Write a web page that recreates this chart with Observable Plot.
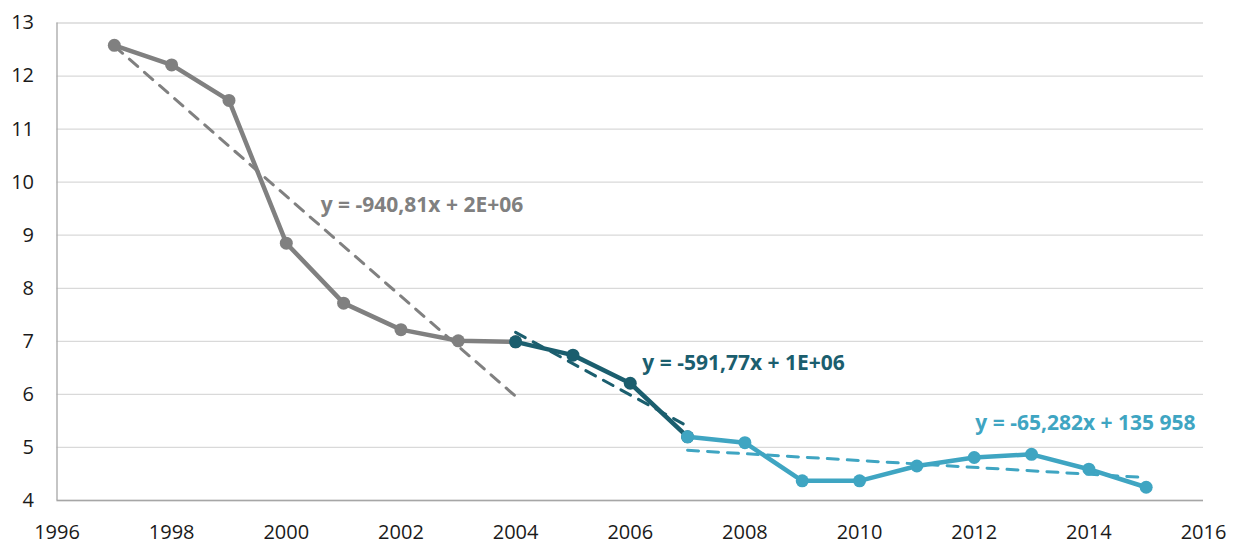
<!DOCTYPE html>
<html><head><meta charset="utf-8">
<script src="https://cdn.jsdelivr.net/npm/d3@7"></script>
<script src="https://cdn.jsdelivr.net/npm/@observablehq/plot@0.6"></script>
<style>html,body{margin:0;padding:0;background:#fff}</style>
</head><body><div id="chart"></div>
<script>
// ---- data ----
const years  = [1997,1998,1999,2000,2001,2002,2003,2004,2005,2006,2007,2008,2009,2010,2011,2012,2013,2014,2015];
const values = [12.58,12.21,11.54,8.85,7.72,7.22,7.01,6.99,6.74,6.21,5.20,5.09,4.37,4.37,4.65,4.81,4.87,4.59,4.25];
const periodNames = ["1997-2004","2004-2007","2007-2015"];
const periodStart = [1997,2004,2007];
const periodEnd   = [2004,2007,2015];
const equations   = ["y = -940,81x + 2E+06","y = -591,77x + 1E+06","y = -65,282x + 135 958"];
const xTicks = [1996,1998,2000,2002,2004,2006,2008,2010,2012,2014,2016];
const yTicks = [4,5,6,7,8,9,10,11,12,13];

// ---- styling ----
const colors = ["#808080","#1b5e6e","#3fa5c2"];
const labelAt = [[2000.6, 9.56],[2006.21, 6.59],[2012.02, 5.46]];

const rows = years.map((year, i) => ({year, value: values[i]}));
const periodRows = periodNames.map((p, k) => rows.filter(d => d.year >= periodStart[k] && d.year <= periodEnd[k]));

const marks = [
  Plot.gridY(yTicks, {stroke: "#d9d9d9", strokeOpacity: 1, strokeWidth: 1.3}),
  Plot.ruleX([1996], {stroke: "#a6a6a6", strokeWidth: 1.3}),
  Plot.ruleY([4], {stroke: "#a6a6a6", strokeWidth: 1.3}),
  Plot.axisX(xTicks, {tickSize: 0, tickPadding: 24, fontSize: 20, tickFormat: d => String(d), fill: "#1a1a1a", label: null}),
  Plot.axisY(yTicks, {tickSize: 0, tickPadding: 23, fontSize: 20, tickFormat: d => String(d), fill: "#1a1a1a", label: null})
];
periodRows.forEach((data, k) => {
  marks.push(Plot.line(data, {x: "year", y: "value", stroke: colors[k], strokeWidth: 4.5}));
  marks.push(Plot.dot(data, {x: "year", y: "value", fill: colors[k], r: 6.5}));
});
periodRows.forEach((data, k) => {
  marks.push(Plot.linearRegressionY(data, {x: "year", y: "value", stroke: colors[k], strokeWidth: 3, strokeDasharray: "11,9", ci: 0}));
  marks.push(Plot.text([equations[k]], {x: () => labelAt[k][0], y: () => labelAt[k][1], text: d => d, textAnchor: "start", fill: colors[k], fontSize: 21, fontWeight: "bold"}));
});

const chart = Plot.plot({
  width: 1239,
  height: 543,
  marginLeft: 56.5,
  marginRight: 36,
  marginTop: 22.5,
  marginBottom: 43,
  style: {fontFamily: "'Open Sans', sans-serif", background: "#fff", overflow: "visible"},
  x: {domain: [1996, 2016], axis: null},
  y: {domain: [4, 13], axis: null},
  marks
});
document.getElementById("chart").appendChild(chart);
</script>
</body></html>
